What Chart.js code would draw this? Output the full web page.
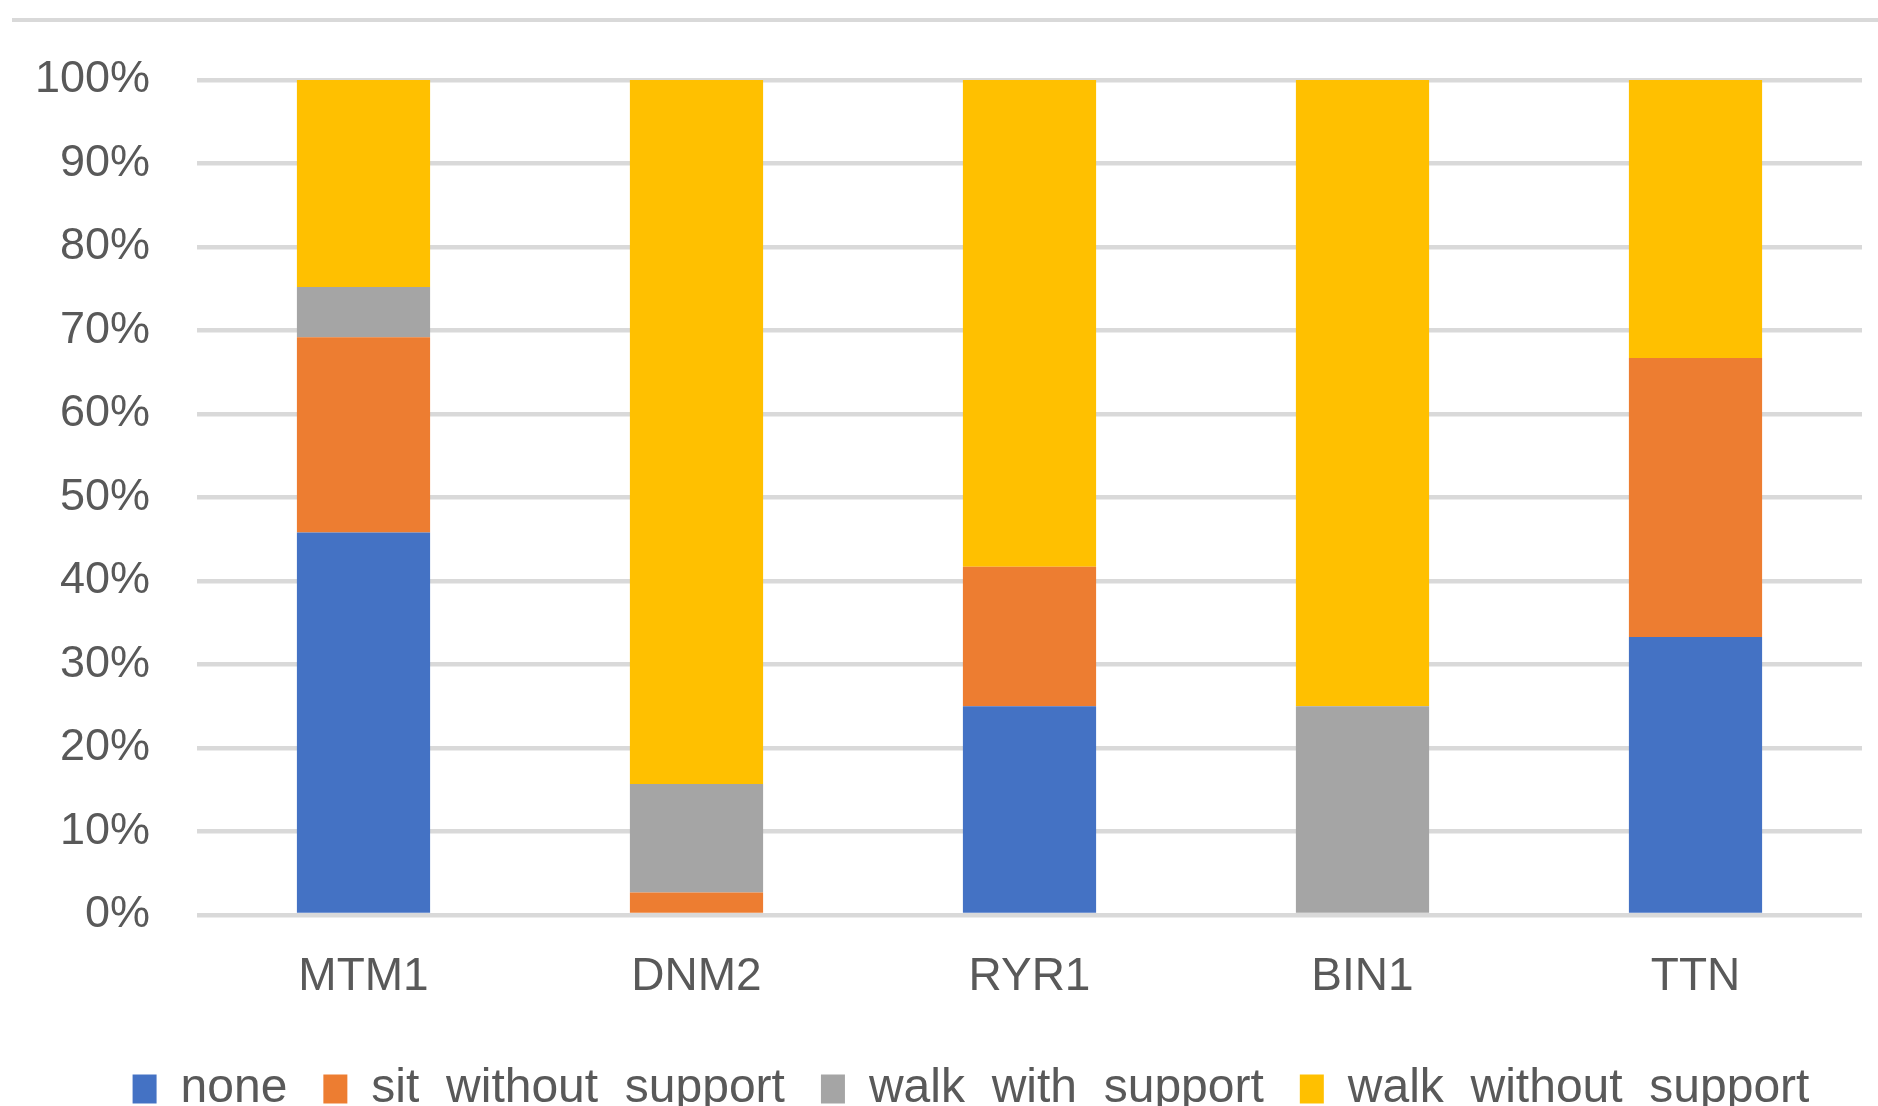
<!DOCTYPE html>
<html>
<head>
<meta charset="utf-8">
<title>Motor milestones by gene</title>
<script src="https://cdn.jsdelivr.net/npm/chart.js@4/dist/chart.umd.min.js"></script>
<style>
  html, body { margin: 0; padding: 0; background: #fff; overflow: hidden; }
  .wrap { position: relative; width: 1878px; height: 1123px; }
  .top-rule { position: absolute; left: 12px; right: 0; top: 18px; height: 4px; background: #d9d9d9; }
  #chart { position: absolute; left: 0; top: 0; }
</style>
</head>
<body>
<div class="wrap">
  <div class="top-rule"></div>
  <canvas id="chart" width="1878" height="1123"></canvas>
</div>
<script>
/* ── data (percent of patients per gene) ── */

const genes = ['MTM1', 'DNM2', 'RYR1', 'BIN1', 'TTN'];
const none = [45.8, 0, 25.0, 0, 33.3];
const sitWithoutSupport = [23.4, 2.7, 16.7, 0, 33.4];
const walkWithSupport = [6.0, 13.0, 0, 25.0, 0];
const walkWithoutSupport = [24.8, 84.3, 58.3, 75.0, 33.3];

const seriesNames = ['none', 'sit_without_support', 'walk_with_support', 'walk_without_support'];
const seriesColors = ['#4472C4', '#ED7D31', '#A5A5A5', '#FFC000'];

// ── build chart ──

const seriesValues = [none, sitWithoutSupport, walkWithSupport, walkWithoutSupport];
const datasets = seriesNames.map((name, i) => ({
  label: name,
  data: seriesValues[i],
  backgroundColor: seriesColors[i],
  borderWidth: 0,
  categoryPercentage: 1,
  barPercentage: 0.4,
}));

const textColor = '#595959';
const font = 'Liberation Sans, Arial, sans-serif';

// legend in the original sits a bit right of centre
const shiftLegend = {
  id: 'shiftLegend',
  afterLayout(chart) {
    chart.legend.left += 40;
    chart.legend.right += 40;
  },
};

new Chart(document.getElementById('chart'), {
  type: 'bar',
  data: { labels: genes, datasets },
  plugins: [shiftLegend],
  options: {
    responsive: false,
    animation: false,
    layout: { padding: { top: 80, right: 16, left: 0, bottom: 0 } },
    plugins: {
      tooltip: { enabled: false },
      legend: {
        position: 'bottom',
        labels: {
          color: textColor,
          font: { family: font, size: 48 },
          boxWidth: 24,
          boxHeight: 29,
          padding: 36,
        },
      },
    },
    scales: {
      x: {
        stacked: true,
        grid: { display: false },
        border: { display: false },
        ticks: { color: textColor, font: { family: font, size: 46 }, padding: 27 },
        afterFit: s => { s.height = 114; },
      },
      y: {
        stacked: true,
        min: 0,
        max: 100,
        grid: { color: '#d9d9d9', lineWidth: 4.5, drawTicks: false },
        border: { display: false },
        ticks: {
          stepSize: 10,
          color: textColor,
          font: { family: font, size: 45 },
          padding: 47,
          callback: v => v + '%',
        },
        afterFit: s => { s.width = 197; },
      },
    },
  },
});
</script>
</body>
</html>
